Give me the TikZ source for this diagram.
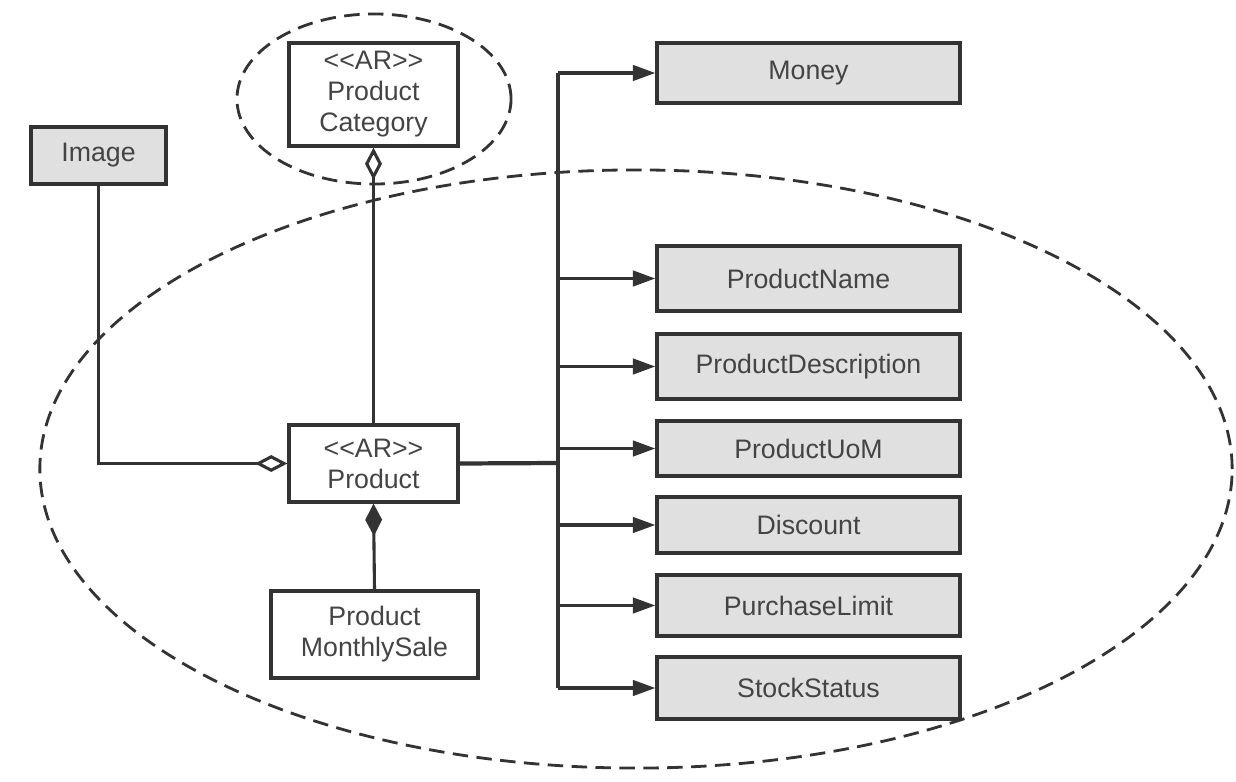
\documentclass[tikz,border=0pt]{standalone}
\usepackage{fontspec}
\setmainfont{Liberation Sans}
\usetikzlibrary{arrows.meta}
\definecolor{edge}{HTML}{333333}
\definecolor{txt}{HTML}{444444}
\definecolor{vofill}{HTML}{E0E0E0}
\begin{document}
\begin{tikzpicture}[x=0.025cm,y=-0.025cm,
  box/.style={draw=edge, line width=2.3pt, text=txt, inner sep=0pt, align=center,
    font=\fontsize{19}{22}\selectfont},
  vo/.style={box, fill=vofill, minimum width=7.575cm},
  ar/.style={box, fill=white},
  conn/.style={draw=edge, line width=2.2pt},
  tip/.style={-{Triangle[length=16pt,width=11pt]}},
  agg/.style={-{Diamond[open,length=23pt,width=12pt]}},
  comp/.style={-{Diamond[length=23pt,width=12pt]}},
  zone/.style={draw=edge, line width=2pt, dash pattern=on 11pt off 6pt}]
\useasboundingbox (0,0) rectangle (1236,782);
\draw[zone] (374,99) ellipse [x radius=3.425cm, y radius=2.125cm];
\draw[zone] (636,469) ellipse [x radius=14.9cm, y radius=7.475cm];

\node[ar, minimum width=4.225cm, minimum height=2.575cm] (cat) at (373.5,94.5) {<{}<AR>{}>\\Product\\Category};
\node[box, fill=vofill, minimum width=3.375cm, minimum height=1.425cm] (img) at (98.5,155.5) {Image};
\node[ar, minimum width=4.225cm, minimum height=1.925cm] (prod) at (373.5,463.5) {<{}<AR>{}>\\Product};
\node[ar, minimum width=5.175cm, minimum height=2.175cm] (sale) at (374.5,634.5) {Product\\MonthlySale};

\node[vo, minimum height=1.5cm] (money) at (808.5,73) {Money};
\node[vo, minimum height=1.625cm] (pname) at (808.5,278.5) {ProductName};
\node[vo, minimum height=1.625cm] (pdesc) at (808.5,366.5) {ProductDescription};
\node[vo, minimum height=1.375cm] (puom) at (808.5,448.5) {ProductUoM};
\node[vo, minimum height=1.4cm] (disc) at (808.5,525) {Discount};
\node[vo, minimum height=1.525cm] (plim) at (808.5,605.5) {PurchaseLimit};
\node[vo, minimum height=1.55cm] (stock) at (808.5,688) {StockStatus};

\coordinate (bus) at (558,463);
\draw[conn, line width=3pt] (prod.east) -- (bus);
\draw[conn] (bus |- money.west) -- (bus |- stock.west);
\foreach \n in {money,pname,pdesc,puom,disc,plim,stock}
  \draw[conn, tip] (bus |- \n.west) -- (\n.west);

\draw[conn, agg] (img.south) |- (prod.west);
\draw[conn, agg] (prod.north) -- (cat.south);
\draw[conn, comp] (sale.north) -- (prod.south);
\end{tikzpicture}
\end{document}
